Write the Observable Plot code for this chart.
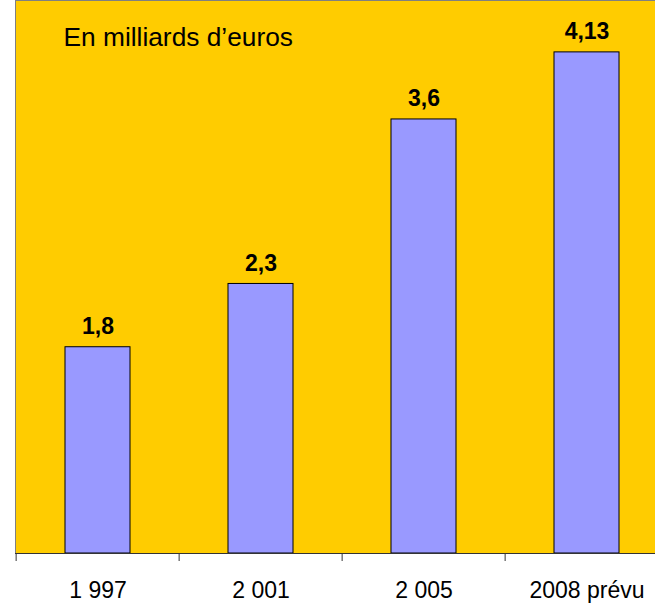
<!DOCTYPE html>
<html>
<head>
<meta charset="utf-8">
<script src="https://cdn.jsdelivr.net/npm/d3@7"></script>
<script src="https://cdn.jsdelivr.net/npm/@observablehq/plot@0.6"></script>
<style>
  html, body { margin: 0; padding: 0; background: #fff; }
</style>
</head>
<body>
<div id="chart"></div>
<script>
const categories = ["1 997", "2 001", "2 005", "2008 prévu"];
const values = [1.8, 2.3, 3.6, 4.13];
const title = "En milliards d\u2019euros";

const data = categories.map((c, i) => ({year: c, value: values[i], label: String(values[i]).replace(".", ",")}));

const yMin = 0.17, yMax = 4.54;
const xRange = [15, 670];
const step = (xRange[1] - xRange[0]) / categories.length;
const font = "Liberation Sans, Arial, sans-serif";

const chart = Plot.plot({
  width: 655,
  height: 605,
  marginLeft: 15,
  marginRight: 0,
  marginTop: 0,
  marginBottom: 52,
  style: {fontFamily: font, background: "#fff", overflow: "visible"},
  x: {domain: categories, range: xRange, paddingInner: 0.6, paddingOuter: 0.3, label: null},
  y: {domain: [yMin, yMax], axis: null},
  marks: [
    Plot.frame({fill: "#FFCC00"}),
    Plot.frame({stroke: "#808080"}),
    Plot.barY(data, {x: "year", y1: yMin, y2: "value", fill: "#9999FF", stroke: "#000", strokeWidth: 1}),
    Plot.text(data, {x: "year", y: "value", text: "label", dy: -13, lineAnchor: "bottom", fontWeight: "bold", fontSize: 23, fill: "#000"}),
    Plot.ruleY([yMin], {stroke: "#333", strokeWidth: 1}),
    Plot.axisX({tickSize: 8, tickFormat: () => "", dx: -step / 2, stroke: "#333"}),
    Plot.axisX({tickSize: 0, tickPadding: 28, fontSize: 23, fill: "#000"}),
    Plot.text([title], {frameAnchor: "top-left", textAnchor: "start", lineAnchor: "top", dx: 48, dy: 27, fontSize: 26.3, fill: "#000"})
  ]
});
document.getElementById("chart").append(chart);
</script>
</body>
</html>
